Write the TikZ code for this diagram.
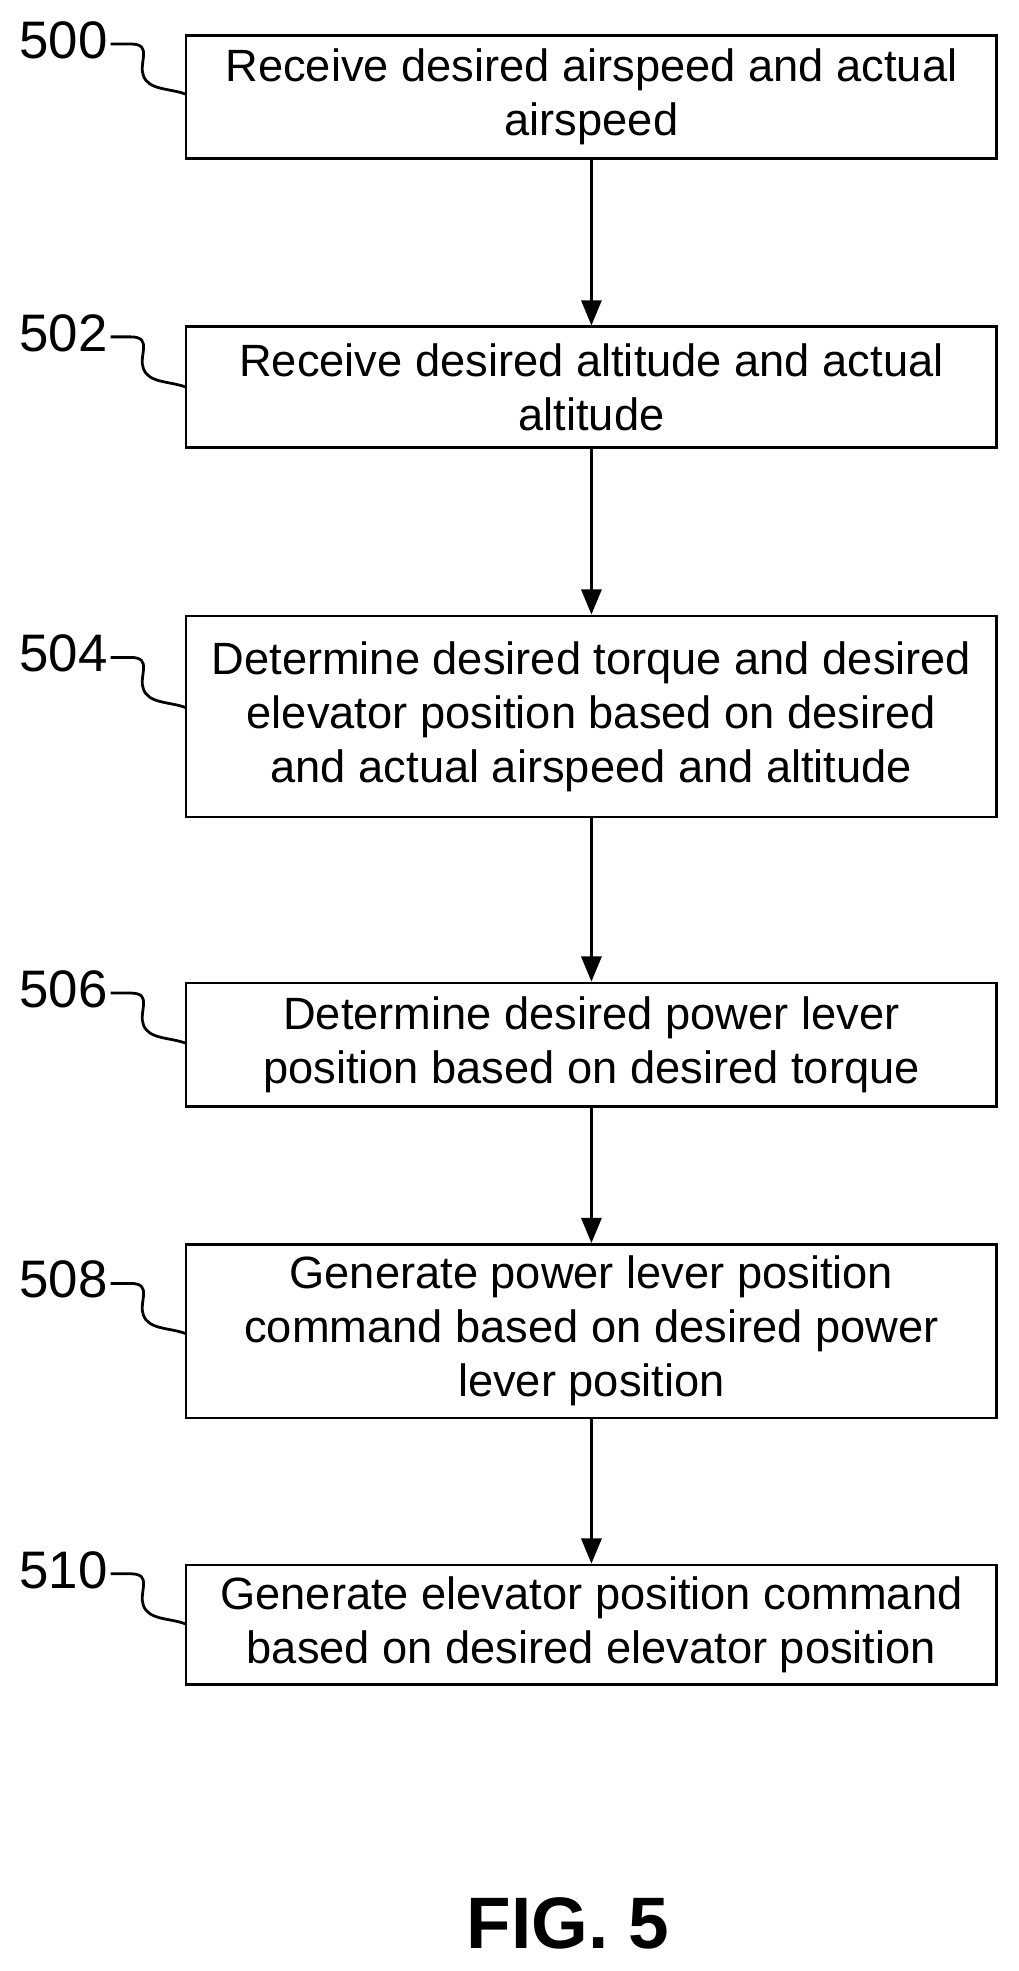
\documentclass[tikz,border=0pt]{standalone}
\usepackage{fontspec}
\setmainfont{Liberation Sans}
\usetikzlibrary{arrows.meta}

\tikzset{
  stepbox/.style={draw, line width=1.1pt, minimum width=322.5pt, align=center,
    font=\fontsize{18}{21.5}\selectfont, inner sep=0pt},
  ref/.style={font=\fontsize{21}{24}\selectfont, anchor=east, inner sep=0pt},
  flow/.style={-{Triangle[length=10pt,width=8pt]}, line width=1.1pt},
  lead/.style={line width=1.1pt}
}

\begin{document}
\begin{tikzpicture}[x=0.5pt, y=-0.5pt]
  \useasboundingbox (0,0) rectangle (810,1568);

  % process steps
  \node[stepbox, minimum height=49pt] (s500) at (470.5,77) {Receive desired airspeed and actual\\airspeed};
  \node[stepbox, minimum height=48pt] (s502) at (470.5,308) {Receive desired altitude and actual\\altitude};
  \node[stepbox, minimum height=80pt] (s504) at (470.5,570) {Determine desired torque and desired\\elevator position based on desired\\and actual airspeed and altitude};
  \node[stepbox, minimum height=49pt] (s506) at (470.5,831) {Determine desired power lever\\position based on desired torque};
  \node[stepbox, minimum height=69pt] (s508) at (470.5,1059) {Generate power lever position\\command based on desired power\\lever position};
  \node[stepbox, minimum height=47.5pt] (s510) at (470.5,1292.5) {Generate elevator position command\\based on desired elevator position};

  % arrows
  \draw[flow] (s500) -- (s502);
  \draw[flow] (s502) -- (s504);
  \draw[flow] (s504) -- (s506);
  \draw[flow] (s506) -- (s508);
  \draw[flow] (s508) -- (s510);

  % reference numerals
  \foreach \n/\y in {500/32, 502/265, 504/520, 506/787, 508/1018, 510/1249} {
    \node[ref] (r\n) at (86,\y) {\n};
    \draw[lead] (88,\y+3) -- (104,\y+3)
      .. controls (122,\y+3) and (110,\y+18) .. (114,\y+28)
      .. controls (118,\y+40) and (135,\y+38) .. (148,\y+43);
  }

  \node[font=\bfseries\fontsize{29}{32}\selectfont] (fig) at (452,1530) {FIG. 5};
\end{tikzpicture}
\end{document}
